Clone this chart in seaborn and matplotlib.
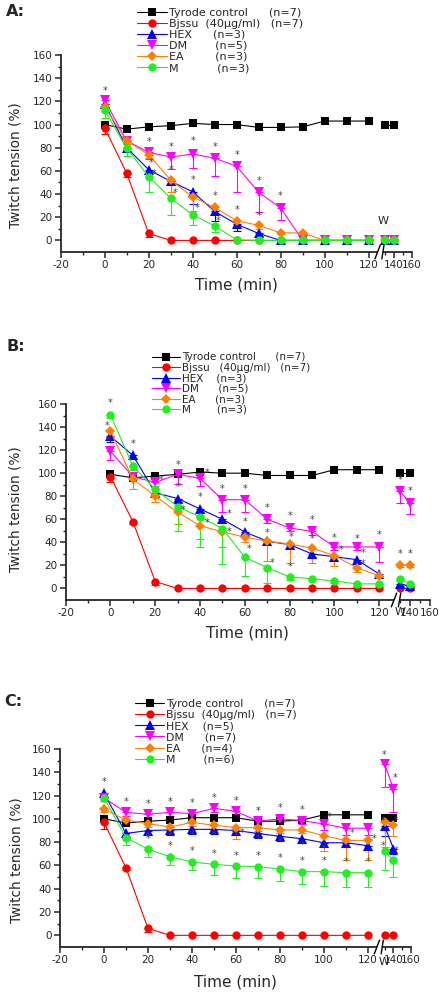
import numpy as np
import pandas as pd
import matplotlib
matplotlib.use("Agg")
import matplotlib.pyplot as plt
import matplotlib.transforms as mtransforms
from matplotlib.lines import Line2D
from matplotlib.ticker import FixedLocator, NullFormatter
import seaborn as sns

sns.set_style("ticks")
plt.rcParams["font.family"] = ["DejaVu Sans"]
plt.rcParams["axes.unicode_minus"] = False

# ---------------- data ----------------
TIME = [0, 10, 20, 30, 40, 50, 60, 70, 80, 90, 100, 110, 120, 130, 140]
SEGMENT = [0] * 13 + [1, 1]          # 0 = before washout, 1 = washout (W)
SERIES = ["Tyrode control", "Bjssu", "HEX", "DM", "EA", "M"]

# Panel A
A_TYRODE = [100, 96, 98, 99, 101, 100, 100, 97.5, 97.5, 98, 103, 103, 103, 100, 100]
A_BJSSU = [97, 58, 6, 0, 0, 0, 0, 0, 0, 0, 0, 0, 0, 0, 0]
A_HEX = [118, 80, 61, 51, 42, 25, 14, 6, 0, 0, 0, 0, 0, 0, 0]
A_DM = [121, 86, 76, 72, 74.5, 71, 64, 41.5, 28, 0, 0, 0, 0, 0, 0]
A_EA = [115, 86, 74, 52, 37.5, 28.5, 17, 13, 6.5, 6.5, 0, 0, 0, 0, 0]
A_M = [112.5, 79.5, 55, 36.5, 22, 12.5, 0.5, 0, 0, 0, 0, 0, 0, 0, 0]
A_TYRODE_ERR = [0] * 15
A_BJSSU_ERR = [5, 3, 3, 0, 0, 0, 0, 0, 0, 0, 0, 0, 0, 0, 0]
A_HEX_ERR = [3, 3, 3, 3, 11, 8, 6, 2, 0, 0, 0, 0, 0, 0, 0]
A_DM_ERR = [3, 3, 6, 10, 12, 15, 22, 17, 10, 0, 0, 0, 0, 0, 0]
A_EA_ERR = [4, 3, 3, 10, 12, 5, 4, 3, 1, 1, 0, 0, 0, 0, 0]
A_M_ERR = [7, 7, 13, 15, 9, 5, 0, 0, 0, 0, 0, 0, 0, 0, 0]
A_LABELS = ["Tyrode control      (n=7)", "Bjssu  (40μg/ml)   (n=7)", "HEX      (n=3)",
            "DM        (n=5)", "EA         (n=3)", "M           (n=3)"]
A_STARS = [("DM", 0, 0, 8), ("DM", 20, 0, 9), ("DM", 30, 0, 9), ("DM", 40, 0, 11),
           ("DM", 50, 0, 10), ("DM", 60, 0, 10), ("DM", 70, 0, 10), ("DM", 80, 0, 10),
           ("HEX", 20, 1, 6), ("HEX", 40, 0, 10),
           ("EA", 30, 0, 9), ("EA", 50, 0, 10), ("EA", 60, 0, 9), ("EA", 70, 0, 8),
           ("M", 20, 2.5, 2), ("M", 30, 2, 4), ("M", 40, 2, 6), ("M", 50, 1.5, 4)]

# Panel B
B_TYRODE = [99, 96, 97.5, 99, 101, 100, 100, 98, 98, 98, 103, 103, 103, 100, 100]
B_BJSSU = [97, 58, 6, 0, 0, 0, 0, 0, 0, 0, 0, 0, 0, 0, 0]
B_HEX = [132, 115.5, 83, 78, 69, 60, 49, 41, 38, 30, 27.5, 25, 12.5, 4, 2]
B_DM = [119, 97, 92, 99, 95.5, 77, 77, 60, 52.5, 49.5, 36, 36, 36, 84.5, 74.5]
B_EA = [136.5, 95, 80, 66, 54.5, 49, 44.5, 41, 38.5, 35, 28.5, 18, 11, 20.5, 20.5]
B_M = [150.5, 106, 86, 71, 62, 52, 27, 18, 10, 8.5, 6.5, 4, 4, 8.5, 4]
B_TYRODE_ERR = [0] * 15
B_BJSSU_ERR = [5, 2, 3, 0, 0, 0, 0, 0, 0, 0, 0, 0, 0, 0, 0]
B_HEX_ERR = [5, 3, 3, 3, 3, 3, 3, 3, 3, 3, 4, 3, 2, 2, 2]
B_DM_ERR = [8, 2, 3, 8, 7, 11, 11, 3, 3, 3, 3, 3, 13, 10, 10]
B_EA_ERR = [5, 9, 5, 10, 12, 13, 4, 17, 16, 13, 9, 4, 2, 2, 2]
B_M_ERR = [3, 3, 4, 21, 26, 31, 16, 13, 3, 2, 2, 2, 2, 2, 2]
B_LABELS = ["Tyrode control      (n=7)", "Bjssu   (40μg/ml)   (n=7)", "HEX    (n=3)",
            "DM      (n=5)", "EA      (n=3)", "M        (n=3)"]
B_STARS = [("M", 0, 0, 10), ("EA", 0, -1.5, 4), ("DM", 0, -1, 9),
           ("DM", 20, 2.5, 2), ("DM", 30, 0, 8), ("DM", 40, 3, 5), ("DM", 50, 0, 9),
           ("DM", 60, 0, 9), ("DM", 70, 0, 10), ("DM", 80, 0, 10), ("DM", 90, 0, 10),
           ("DM", 100, 0, 8), ("DM", 110, 0, 7), ("DM", 120, 0, 10), ("DM", 130, 0, 10),
           ("DM", 140, 0, 10),
           ("HEX", 10, 0, 10), ("HEX", 30, 0, 10), ("HEX", 40, 0, 10), ("HEX", 50, 3, 5),
           ("HEX", 60, 0, 9), ("HEX", 110, 3, 6),
           ("EA", 30, 2.5, 2), ("EA", 40, 3, 2), ("EA", 50, 3, 0), ("EA", 70, 0, 7),
           ("EA", 80, 0.5, 6), ("EA", 90, 0, 8), ("EA", 100, 3, 5), ("EA", 110, 3, 3.5),
           ("EA", 130, 0, 9), ("EA", 140, 0, 9),
           ("M", 60, 2, 7), ("M", 70, 2, 4), ("M", 80, 0, 9)]

# Panel C
C_TYRODE = [100, 96.5, 98, 99, 101, 101, 101, 98, 98, 99, 103.5, 103.5, 103.5, 100.5, 100.5]
C_BJSSU = [97, 58, 6, 0, 0, 0, 0, 0, 0, 0, 0, 0, 0, 0, 0]
C_HEX = [122, 87.5, 90, 90.5, 91, 91, 90, 87.5, 85, 83, 79.5, 79.5, 77, 94, 74.5]
C_DM = [118, 105.6, 104, 105.6, 104.5, 109, 106.5, 98, 100, 98.5, 95.6, 92, 92, 147, 126]
C_EA = [108.5, 99, 96, 93, 97, 94.5, 92.5, 92.5, 90.5, 90.5, 85.5, 81.5, 81.5, 97, 95]
C_M = [118, 84, 74, 67.5, 63, 61, 59.5, 59, 57, 54.7, 54.7, 53.8, 53.8, 72, 65]
C_TYRODE_ERR = [0] * 15
C_BJSSU_ERR = [6, 2, 3, 0, 0, 0, 0, 0, 0, 0, 0, 0, 0, 0, 0]
C_HEX_ERR = [3, 4, 4, 4, 4, 4, 4, 4, 4, 4, 4, 4, 4, 9, 5]
C_DM_ERR = [3, 3, 3, 3, 3, 3, 3, 3, 3, 3, 5, 6, 6, 20, 20]
C_EA_ERR = [3, 3, 3, 3, 3, 4, 10, 3, 3, 3, 13, 17, 17, 21, 10]
C_M_ERR = [3, 6, 6.5, 7, 7, 9, 10, 10, 10, 11, 12, 12, 12, 16, 15]
C_LABELS = ["Tyrode control      (n=7)", "Bjssu  (40μg/ml)   (n=7)", "HEX    (n=5)",
            "DM      (n=7)", "EA      (n=4)", "M        (n=6)"]
C_STARS = [("HEX", 0, 0, 10)] + \
          [("DM", t, 0, 9) for t in [10, 20, 30, 40, 50, 60, 70, 80, 90]] + \
          [("DM", 100, 2.5, 6), ("DM", 130, 0, 8), ("DM", 140, 2, 9)] + \
          [("HEX", t, 0, -5) for t in [20, 30, 40, 50, 60, 70, 80, 90, 100]] + \
          [("M", t, 0, 9) for t in [20, 30, 40, 50, 60, 70, 80, 90, 100, 110, 120]] + \
          [("M", 130, -2, 5), ("M", 140, 3, 7),
           ("EA", 60, 3, -5), ("EA", 110, 3, 6), ("EA", 120, 3, 1), ("EA", 130, -2, 1),
           ("EA", 140, 3, 3)]

X_MAJOR = [-20, 0, 20, 40, 60, 80, 100, 120, 140, 160]
X_MINOR = [-10, 10, 30, 50, 70, 90, 110, 130, 150]
Y_MAJOR = [0, 20, 40, 60, 80, 100, 120, 140, 160]
Y_MINOR = [10, 30, 50, 70, 90, 110, 130, 150]

# ---------------- style ----------------
COLORS = {"Tyrode control": "#000000", "Bjssu": "#FF0000", "HEX": "#0000FF",
          "DM": "#FF00FF", "EA": "#FF8000", "M": "#22EE22"}
MARKERS = {"Tyrode control": "s", "Bjssu": "o", "HEX": "^", "DM": "v", "EA": "D", "M": "o"}
MSIZE = {"Tyrode control": 5.5, "Bjssu": 6.0, "HEX": 6.5, "DM": 6.5, "EA": 5.5, "M": 6.0}

W, H = 444, 993
fig = plt.figure(figsize=(W / 100, H / 100), dpi=100)


def px_axes(l, r, top, bot):
    return fig.add_axes([l / W, 1 - bot / H, (r - l) / W, (bot - top) / H])


def make_scale(b, f):
    def fwd(x):
        x = np.asarray(x, dtype=float)
        return np.where(x <= b, x, b + (x - b) * f)

    def inv(y):
        y = np.asarray(y, dtype=float)
        return np.where(y <= b, y, b + (y - b) / f)
    return fwd, inv


def panel(ax, values, errors, labels, stars, brk, fact, legend_anchor, leg_fs,
          leg_spacing, panel_label, label_xy, w_pos, ylab_x, ylab_y):
    frames = []
    for name in SERIES:
        frames.append(pd.DataFrame({"time": TIME, "value": values[name],
                                    "err": errors[name], "seg": SEGMENT,
                                    "series": name}))
    df = pd.concat(frames, ignore_index=True)

    for name in SERIES:
        sub = df[df["series"] == name]
        c = COLORS[name]
        e = sub[sub["err"] > 0]
        if len(e):
            ax.errorbar(e["time"], e["value"], yerr=[e["err"], np.zeros(len(e))],
                        fmt="none", ecolor=c, elinewidth=0.8, capsize=3,
                        capthick=0.8, zorder=2)
        sns.lineplot(data=sub, x="time", y="value", units="seg", estimator=None,
                     color=c, marker=MARKERS[name], markersize=MSIZE[name],
                     markeredgecolor=c, markeredgewidth=0, linewidth=0.8,
                     legend=False, ax=ax, zorder=3)

    for name, t, dx, dy in stars:
        v = values[name][TIME.index(t)]
        ax.text(t + dx, v + dy, "*", ha="center", va="center", fontsize=7,
                color="#444444", zorder=5)

    ax.set_xscale("function", functions=make_scale(brk, fact))
    ax.set_xlim(-20, 160)
    ax.set_ylim(-10, 160)
    ax.xaxis.set_major_locator(FixedLocator(X_MAJOR))
    ax.xaxis.set_minor_locator(FixedLocator(X_MINOR))
    ax.xaxis.set_minor_formatter(NullFormatter())
    ax.yaxis.set_major_locator(FixedLocator(Y_MAJOR))
    ax.yaxis.set_minor_locator(FixedLocator(Y_MINOR))
    ax.set_xticklabels([str(v) for v in X_MAJOR])
    ax.set_yticklabels([str(v) for v in Y_MAJOR])
    sns.despine(ax=ax)
    for s in ("left", "bottom"):
        ax.spines[s].set_linewidth(1.3)
    ax.tick_params(which="major", direction="out", length=4, width=1.1,
                   labelsize=7.5, pad=2)
    ax.tick_params(which="minor", direction="out", length=2.5, width=1.0)

    ax.set_xlabel("Time (min)", fontsize=11)
    ax.xaxis.label.set_va("center")
    ax.xaxis.set_label_coords(0.5, label_xy)
    ax.set_ylabel("Twitch tension (%)", fontsize=9.8)
    ax.yaxis.label.set_va("center")
    ax.yaxis.set_label_coords(ylab_x, ylab_y)

    # axis break marks
    trans = mtransforms.blended_transform_factory(ax.transData, ax.transAxes)
    xb = brk - 0.3
    ax.add_patch(plt.Rectangle((xb - 1.6, -0.02), 3.2, 0.04, transform=trans,
                               facecolor="white", edgecolor="none", clip_on=False,
                               zorder=6))
    for off in (-1.6, 1.6):
        ax.plot([xb + off - 1.2, xb + off + 1.2], [-0.035, 0.035], color="black",
                lw=1.0, transform=trans, clip_on=False, zorder=7)

    # W marker for washout
    wx, wy, wcoord = w_pos
    if wcoord == "data":
        ax.text(wx, wy, "W", fontsize=8, ha="center", va="center")
    else:
        ax.text(wx, wy, "W", fontsize=8, ha="center", va="center", transform=trans)

    handles = [Line2D([0], [0], color=COLORS[n], marker=MARKERS[n],
                      markersize=MSIZE[n], markeredgewidth=0, lw=0.8) for n in SERIES]
    ax.legend(handles, labels, loc="upper left", bbox_to_anchor=legend_anchor,
              bbox_transform=fig.transFigure, frameon=False, fontsize=leg_fs,
              handlelength=2.7, handletextpad=0.15, labelspacing=leg_spacing,
              borderpad=0, borderaxespad=0, numpoints=1)

    fig.text(panel_label[0] / W, 1 - panel_label[1] / H, panel_label[2],
             fontsize=11.5, fontweight="bold", ha="left", va="center")


axA = px_axes(60.7, 411.7, 55, 252)
panel(axA,
      dict(zip(SERIES, [A_TYRODE, A_BJSSU, A_HEX, A_DM, A_EA, A_M])),
      dict(zip(SERIES, [A_TYRODE_ERR, A_BJSSU_ERR, A_HEX_ERR, A_DM_ERR, A_EA_ERR, A_M_ERR])),
      A_LABELS, A_STARS, 126, 0.40, (137 / W, 1 - 7.5 / H), 8, 0.1,
      (6, 12, "A:"), -0.168, (127, 17, "data"), -0.129, 0.44)

axB = px_axes(65.7, 430, 404, 600)
panel(axB,
      dict(zip(SERIES, [B_TYRODE, B_BJSSU, B_HEX, B_DM, B_EA, B_M])),
      dict(zip(SERIES, [B_TYRODE_ERR, B_BJSSU_ERR, B_HEX_ERR, B_DM_ERR, B_EA_ERR, B_M_ERR])),
      B_LABELS, B_STARS, 128.5, 0.45, (152 / W, 1 - 352.5 / H), 7.5, 0.04,
      (6, 347, "B:"), -0.168, (130, -0.062, "axes"), -0.137, 0.464)

axC = px_axes(60, 411, 749, 947)
panel(axC,
      dict(zip(SERIES, [C_TYRODE, C_BJSSU, C_HEX, C_DM, C_EA, C_M])),
      dict(zip(SERIES, [C_TYRODE_ERR, C_BJSSU_ERR, C_HEX_ERR, C_DM_ERR, C_EA_ERR, C_M_ERR])),
      C_LABELS, C_STARS, 126, 0.40, (135 / W, 1 - 699 / H), 7.8, 0.1,
      (4, 701, "C:"), -0.175, (129, -0.075, "axes"), -0.125, 0.44)

fig.savefig("out.png", dpi=100)
